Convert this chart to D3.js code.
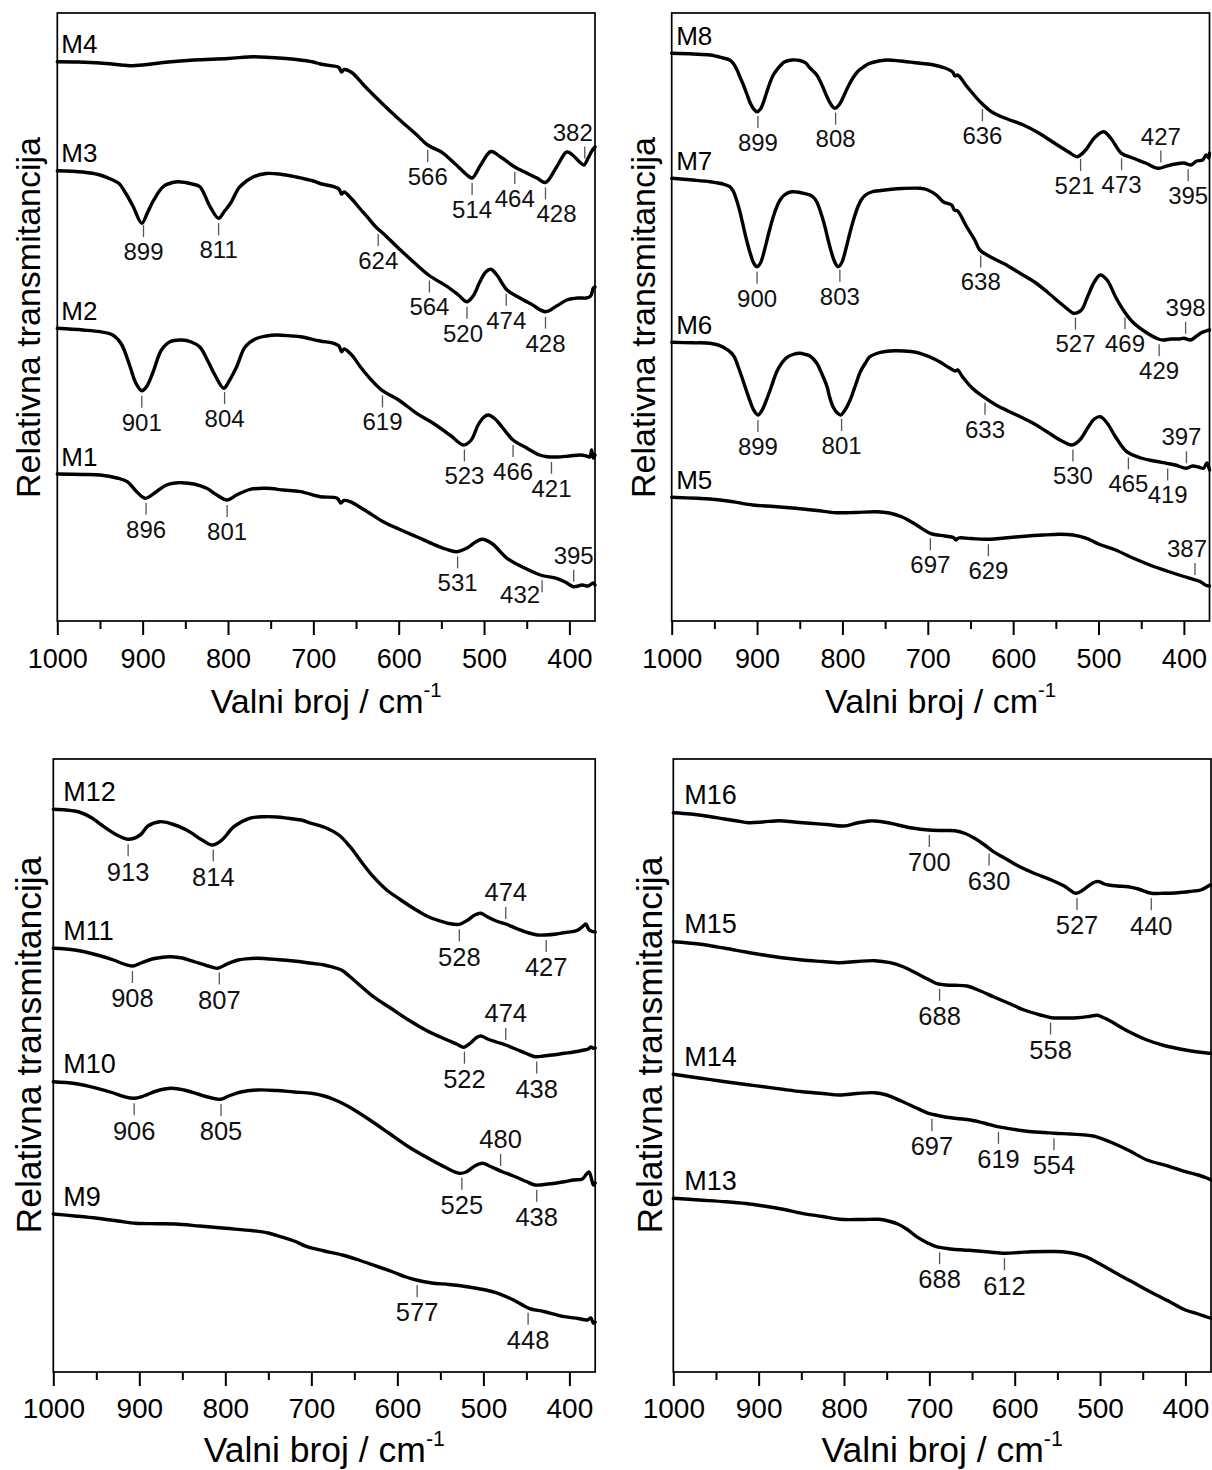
<!DOCTYPE html>
<html><head><meta charset="utf-8">
<script src="https://cdn.jsdelivr.net/npm/d3@7"></script>
<style>body{margin:0;background:#fff}svg{display:block}</style>
</head><body>
<svg id="c" width="1212" height="1470"></svg>
<script>
// ---------------- DATA (wavenumber cm-1, relative transmittance a.u.) ----------------
const wnDomain = [1000, 370];
const majorTicks = [1000, 900, 800, 700, 600, 500, 400];
const minorTicks = [950, 850, 750, 650, 550, 450];
const xTitle = "Valni broj / cm";
const xTitleSup = "-1";
const yTitle = "Relativna transmitancija";

const M4 = [[1000,559.3],[975,559],[950,558],[925,556],[915,555.3],[900,556],[870,559],[840,561],[800,562.5],[770,564.3],[750,563.5],[720,561.5],[700,559],[692,557],[672,554.3],[670,553.5],[667,549],[664,551.5],[655,548.5],[640,535],[620,518],[600,502],[580,487],[566,476],[550,469],[543,464.3],[530,454],[520,446],[514,443],[504,456],[492,469.5],[481,464.3],[464,454],[450,448],[438,443],[428,438.5],[415,454],[403,469],[395,465],[388,459],[383,456],[378,463],[373,471],[370,474]];
const M3 = [[1000,450.3],[970,449],[950,446],[935,441],[928,437.7],[920,428],[911,414.3],[901,397.7],[894,409],[887,421],[876,434.3],[865,438.5],[858,439.3],[850,438.5],[842,437],[833,434.3],[821,414.3],[811,402.7],[804,410],[797,417.7],[786,434.3],[770,444.3],[755,447.5],[740,447],[720,444],[700,440],[690,437],[676,434.3],[670,432],[667,427],[664,429],[655,422],[645,412],[637,404.3],[627,394.3],[615,385],[598,371],[580,357],[565,346],[550,338],[543,334.3],[530,326],[520,319.3],[512,326],[505,339],[498,349],[492,351.7],[485,346],[473,331],[460,324],[445,317],[428,309.3],[415,315],[403,321],[390,323],[380,323],[375,325],[372,333],[370,334]];
const M2 = [[1000,292.7],[970,291],[950,289.3],[935,286],[925,277],[915,255],[908,238],[901,230.3],[895,235],[888,248.5],[878,271],[868,279.3],[854,281],[843,279],[833,274],[823,259],[815,245.5],[805,232.7],[798,241],[790,254],[780,274],[768,282],[755,285],[743,286],[725,285],[715,284.3],[692,280],[676,277.7],[670,275],[667,269.3],[664,272],[655,266],[645,254.3],[632,241],[620,231],[600,221],[579,207.7],[560,198],[540,186],[524,176],[515,181],[507,196],[500,204],[495,206],[487,202],[478,193],[466,181],[450,173],[435,166],[426,164.3],[415,164],[400,165],[387,166],[380,165],[376,164],[374,171],[372,163],[370,166]];
const M1 = [[1000,147],[970,146.5],[950,146],[930,143],[918,139.3],[907,129.3],[897,122.7],[884,129.3],[872,136],[862,138],[854,138.3],[840,137],[825,132.7],[813,126],[801,121],[790,126],[774,131.7],[755,132.7],[735,131],[715,129.3],[692,124.3],[672,122.7],[668,118],[664,120.5],[657,119.3],[640,111],[618,99.3],[600,92],[579,84.3],[560,77],[545,72],[532,69.3],[520,73],[510,79],[502,81.7],[490,77],[473,62.7],[455,54],[434,46],[415,42.7],[405,39],[395,34.3],[385,36],[378,35],[372,38],[370,36]];

const M8 = [[1000,567.7],[975,567],[955,566],[940,563],[932,561],[928,557.7],[924,552],[920,544],[916,536],[912,527],[908,518],[904,512],[900,509.3],[896,512],[892,520],[889,528],[885,538],[881,546],[877,551],[872,556],[868,559],[859,561],[850,560.5],[843,558],[838,553],[830,546],[824,536],[818,524],[813,516],[809,512.7],[804,516],[799,524],[793,535],[787,544],[782,549.5],[777,553],[771,556.5],[765,558.5],[748,561],[732,560],[709,557.7],[693,556],[680,553],[671,549],[668,545],[665,546],[654,534.3],[637,517.7],[625,509],[610,503],[588,496],[570,488],[550,477],[535,469],[525,464.3],[515,471],[505,483],[494,489.3],[485,482],[473,467.7],[460,463],[445,458],[430,452.7],[420,455],[410,457],[400,458],[392,456],[385,460],[378,461],[374,466],[371,463],[370,468]];
const M7 = [[1000,442.7],[975,441],[955,439.3],[940,437],[932,434.3],[928,430],[924,421],[920,409],[916,394.3],[912,380],[908,367.7],[904,358],[900,354.3],[896,358],[891,372],[886,389],[881,404.3],[877,414],[873,421],[868,426],[861,429],[854,429],[847,428],[840,426.5],[835,424.5],[830,419],[826,410],[821,396],[817,382],[813,369],[809,359],[805,354.3],[801,358],[796,372],[791,389],[786,404],[782,414],[778,421],[773,426],[766,429],[755,430.5],[745,431.5],[730,432.5],[709,432.7],[700,431],[690,426],[682,419.3],[672,416],[669,411],[665,410],[655,395],[645,381],[639,371],[627,364.3],[610,357],[592,347.7],[575,339],[560,329],[545,318],[535,311],[529,307.7],[520,311],[513,324],[505,339],[498,346],[490,341],[480,324],[471,311],[460,299],[445,289],[430,282],[424,281],[415,282],[405,282],[400,282.7],[392,281],[385,285],[380,288],[374,290],[370,291]];
const M6 = [[1000,278.7],[975,278.2],[955,277.7],[940,274],[928,266],[922,254],[916,239.3],[912,229],[908,219.3],[904,211],[899,206],[894,211],[889,221],[883,235],[877,249.3],[871,258],[865,263.7],[858,266.5],[850,267.7],[843,266.5],[838,265],[830,257.7],[824,247],[818,234.3],[815,224],[811,214.3],[806,208],[802,206],[797,211],[791,221],[785,235],[779,249.3],[773,258],[768,264.3],[760,267.5],[750,269.5],[738,270.3],[720,269.5],[709,267.7],[690,261],[674,252.7],[668,250],[665,251],[660,245],[648,233],[635,224.3],[620,216],[596,206],[575,197],[560,189],[545,181],[531,176],[522,181],[512,194],[505,202],[498,204.3],[490,198],[480,184],[467,169.3],[450,163],[435,160],[420,157.7],[410,156],[397,152.7],[390,155],[383,154],[377,152.7],[373,158],[370,151]];
const M5 = [[1000,123.7],[970,122.7],[955,122],[930,119.5],[905,116],[880,114.5],[855,112.7],[830,110.5],[807,108.3],[785,108.5],[760,109.3],[745,108],[730,104],[715,97],[697,87.7],[680,85],[670,83.5],[667,81],[664,83],[650,82.5],[627,81.7],[610,83],[590,84.5],[565,86],[545,86.7],[530,86],[514,82.7],[500,77],[480,71],[459,62.7],[440,56],[420,50],[400,44.5],[389,41.7],[380,39],[375,36],[370,35]];

const M12 = [[1000,562.7],[985,562],[970,560],[955,554],[944,547],[926,537],[913,532.7],[899,537],[890,546],[876,550.3],[862,548],[845,542],[827,532],[815,527],[804,532],[790,545.3],[772,553.7],[754,555.3],[740,555],[727,553.7],[712,552],[700,548.7],[682,543.7],[668,537],[655,525.3],[640,508],[628,495.3],[612,481.7],[596,472],[580,463],[564,455.3],[550,451],[541,448.7],[528,447.7],[518,452],[510,457],[503,458.7],[495,455],[485,451],[474,448],[460,443],[447,439],[437,437],[428,437],[415,438],[405,439.5],[397,440.3],[390,442],[384,446],[381,448],[377,442],[372,440.3],[370,440]];
const M11 = [[1000,423.7],[975,422],[949,417],[930,412],[918,408],[908,406],[898,409],[885,413],[870,415],[863,415.3],[850,414],[835,410],[820,406],[809,403.7],[798,408],[785,412],[770,413.5],[763,413.7],[740,412.5],[720,411],[700,408.7],[685,407],[677,405.3],[665,402],[655,395.3],[640,384],[628,375.3],[608,364],[587,352],[565,341],[542,332],[530,327.5],[523,324.7],[515,329],[508,334.5],[503,336],[495,333],[485,330],[474,327],[460,322],[450,318.5],[440,315.3],[430,316],[420,317],[406,318.7],[395,320],[383,322],[378,323],[375,325],[372,323.7],[370,324]];
const M10 = [[1000,290.3],[975,288.5],[949,283.7],[930,279],[918,275.5],[906,273.7],[895,276],[880,281],[863,283.7],[848,282],[832,278],[818,274.5],[806,272.7],[796,276],[782,280],[763,282],[740,281.5],[720,280],[700,278.7],[685,276],[675,273],[664,268.7],[650,262],[632,252],[610,239],[587,225.3],[564,213.7],[545,205],[528,198.7],[520,200],[510,206],[501,208.7],[493,206],[478,200.3],[465,196],[450,190.5],[440,187],[425,188],[406,190.3],[395,192],[385,193],[380,198],[377,200],[374,192],[372,187],[370,189]];
const M9 = [[1000,158],[975,156],[949,153.7],[925,151],[904,148.7],[880,148.3],[858,148],[830,146],[800,143.7],[768,141.3],[750,139],[736,135.3],[720,131],[705,125.3],[685,121],[664,117],[645,112],[628,107],[605,100],[590,95],[578,92],[560,89],[540,87.5],[519,85.3],[500,82.5],[483,78.7],[465,72],[447,63.7],[430,60.5],[406,55.3],[390,53.5],[379,52],[375,54],[372,48.7],[370,50]];

const M16 = [[1000,559.3],[980,558],[962,556],[940,553],[925,551],[912,549.3],[895,550],[876,551.3],[858,550],[840,548.7],[820,547.5],[800,546],[785,549],[770,551],[764,551],[750,549.5],[737,547],[720,544],[701,542],[685,541.5],[670,541.3],[658,538.5],[647,533.7],[636,527.5],[625,520.3],[612,514],[598,507],[578,499],[557,492],[542,486],[528,478.7],[520,482],[512,487],[506,490],[501,490.3],[495,488],[490,487],[480,486],[467,485.3],[455,483],[440,478.7],[425,478.8],[409,479.3],[395,480.5],[382,482],[375,485],[371,487],[370,487]];
const M15 = [[1000,430.3],[970,428],[939,423.7],[915,420],[894,417],[870,414],[849,412],[825,410.5],[805,409.3],[785,410.5],[764,411.3],[746,409.3],[730,405],[715,398.7],[702,393],[692,388.7],[680,387],[670,386.7],[656,386],[640,381],[625,375.3],[605,368],[589,362],[570,357],[557,354.3],[540,354],[526,354.3],[513,355.5],[503,356.7],[495,354],[488,351],[470,342],[445,332],[425,326.5],[400,322],[385,320],[375,319],[370,318.7]];
const M14 = [[1000,297.7],[970,294],[939,290.3],[915,287.5],[894,285.3],[870,282.5],[849,280.3],[825,278.5],[805,277],[785,278.5],[764,279.3],[750,277],[733,271],[715,264],[701,258.7],[690,256.5],[683,255.3],[668,253.5],[652,252],[636,249],[620,245.3],[600,242.5],[580,240.3],[565,239.5],[553,238.7],[535,238],[517,237],[508,236],[499,233.7],[485,229],[465,221],[445,212],[420,206],[400,200.3],[385,197],[375,194],[370,192]];
const M13 = [[1000,173.7],[970,172],[939,170.3],[915,168.5],[894,166],[870,162.5],[849,158.7],[825,155.5],[805,152.7],[780,152.5],[760,152.7],[748,151],[737,148],[725,142],[715,135.3],[702,129],[692,125.3],[675,123],[660,122],[647,121.3],[630,120],[612,118.7],[595,119.5],[580,120.3],[560,120.5],[544,120.3],[530,118.5],[517,115.3],[500,108],[481,98.7],[463,90.5],[445,82],[420,71],[400,62],[385,58],[375,55],[370,53.7]];

const spectra = {M1,M2,M3,M4,M5,M6,M7,M8,M9,M10,M11,M12,M13,M14,M15,M16};
const panelSeries = {TL:["M4","M3","M2","M1"], TR:["M8","M7","M6","M5"], BL:["M12","M11","M10","M9"], BR:["M16","M15","M14","M13"]};

// peak labels: [spectrum, wavenumber, side]
const peakTable = [
 ["M4",566,"b"],["M4",514,"b"],["M4",464,"b"],["M4",428,"b"],["M4",382,"a"],
 ["M3",899,"b"],["M3",811,"b"],["M3",624,"b"],["M3",564,"b"],["M3",520,"b"],["M3",474,"b"],["M3",428,"b"],
 ["M2",901,"b"],["M2",804,"b"],["M2",619,"b"],["M2",523,"b"],["M2",466,"b"],["M2",421,"b"],
 ["M1",896,"b"],["M1",801,"b"],["M1",531,"b"],["M1",432,"b"],["M1",395,"a"],
 ["M8",899,"b"],["M8",808,"b"],["M8",636,"b"],["M8",521,"b"],["M8",473,"b"],["M8",395,"b"],["M8",427,"a"],
 ["M7",900,"b"],["M7",803,"b"],["M7",638,"b"],["M7",527,"b"],["M7",469,"b"],["M7",429,"b"],["M7",398,"a"],
 ["M6",899,"b"],["M6",801,"b"],["M6",633,"b"],["M6",530,"b"],["M6",465,"b"],["M6",419,"b"],["M6",397,"a"],
 ["M5",697,"b"],["M5",629,"b"],["M5",387,"a"],
 ["M12",913,"b"],["M12",814,"b"],["M12",528,"b"],["M12",427,"b"],["M12",474,"a"],
 ["M11",908,"b"],["M11",807,"b"],["M11",522,"b"],["M11",438,"b"],["M11",474,"a"],
 ["M10",906,"b"],["M10",805,"b"],["M10",525,"b"],["M10",438,"b"],["M10",480,"a"],
 ["M9",577,"b"],["M9",448,"b"],
 ["M16",700,"b"],["M16",630,"b"],["M16",527,"b"],["M16",440,"b"],
 ["M15",688,"b"],["M15",558,"b"],
 ["M14",697,"b"],["M14",619,"b"],["M14",554,"b"],
 ["M13",688,"b"],["M13",612,"b"]
];

// ---------------- LAYOUT ----------------
const FONT = "'Liberation Sans', Arial, Helvetica, sans-serif";
const layout = {
 TL:{x0:57.3,x1:595,y0:13,y1:621,vmax:608,fTick:27,fTitle:34,fName:26,fPeak:24,yTX:40,yTY:317.5,nameDx:4,tickBase:46.5,titleBase:91.5},
 TR:{x0:671.7,x1:1209.5,y0:13,y1:621,vmax:608,fTick:27,fTitle:34,fName:26,fPeak:24,yTX:655,yTY:317.5,nameDx:4.5,tickBase:46.5,titleBase:91.5},
 BL:{x0:53.3,x1:595.2,y0:759,y1:1372,vmax:613,fTick:28,fTitle:35.5,fName:27,fPeak:25.5,yTX:41,yTY:1045,nameDx:10,tickBase:45.5,titleBase:90},
 BR:{x0:673.3,x1:1211,y0:759,y1:1372,vmax:613,fTick:28,fTitle:35.5,fName:27,fPeak:25.5,yTX:662,yTY:1045,nameDx:11,tickBase:45.5,titleBase:90}
};
const labelShift = {"M4-428":[11,0],"M4-382":[-12,0],"M1-432":[-22,-12],"M8-521":[-6,0],"M6-397":[-5,0],"M5-387":[-8,0],"M3-520":[-4,0]};

function valueAt(data, wn){
  for(let i=0;i<data.length-1;i++){
    const a=data[i], b=data[i+1];
    if(wn<=a[0] && wn>=b[0]){ const t=(a[0]-wn)/(a[0]-b[0]); return a[1]+t*(b[1]-a[1]); }
  }
  return data[data.length-1][1];
}

const svg = d3.select("#c");
svg.append("rect").attr("width",1212).attr("height",1470).attr("fill","#fff");

Object.keys(layout).forEach(k=>{
  const L = layout[k];
  const x = d3.scaleLinear().domain(wnDomain).range([L.x0, L.x1]);
  const y = d3.scaleLinear().domain([0, L.vmax]).range([L.y1, L.y0]);
  const g = svg.append("g");

  const axMajor = d3.axisBottom(x).tickValues(majorTicks).tickFormat(d3.format("d"))
      .tickSize(14).tickSizeOuter(0).tickPadding(L.tickBase - 14 - 0.71*L.fTick);
  const ga = g.append("g").attr("transform",`translate(0,${L.y1})`).call(axMajor);
  ga.select(".domain").remove();
  ga.selectAll(".tick line").attr("stroke","#000").attr("stroke-width",2);
  ga.selectAll(".tick text").attr("font-size",L.fTick).attr("font-family",FONT).attr("fill","#000");
  const axMinor = d3.axisBottom(x).tickValues(minorTicks).tickFormat("").tickSize(8).tickSizeOuter(0);
  const gm = g.append("g").attr("transform",`translate(0,${L.y1})`).call(axMinor);
  gm.select(".domain").remove();
  gm.selectAll(".tick line").attr("stroke","#000").attr("stroke-width",2);

  g.append("rect").attr("x",L.x0).attr("y",L.y0).attr("width",L.x1-L.x0).attr("height",L.y1-L.y0)
   .attr("fill","none").attr("stroke","#000").attr("stroke-width",1.7);

  const xt = g.append("text").attr("x",(L.x0+L.x1)/2).attr("y",L.y1+L.titleBase)
   .attr("text-anchor","middle").attr("font-family",FONT).attr("font-size",L.fTitle).attr("fill","#000");
  xt.append("tspan").text(xTitle);
  xt.append("tspan").attr("font-size",L.fTitle*0.6).attr("dy",-L.fTitle*0.45).text(xTitleSup);
  g.append("text").attr("transform",`translate(${L.yTX},${L.yTY}) rotate(-90)`)
   .attr("text-anchor","middle").attr("font-family",FONT).attr("font-size",L.fTitle).attr("fill","#000").text(yTitle);

  const line = d3.line().x(d=>x(d[0])).y(d=>y(d[1])).curve(d3.curveCatmullRom.alpha(0.5));

  panelSeries[k].forEach(name=>{
    const data = spectra[name];
    g.append("path").datum(data).attr("d",line).attr("fill","none").attr("stroke","#000")
     .attr("stroke-width",3.4).attr("stroke-linejoin","round").attr("stroke-linecap","round");
    g.append("text").attr("x",L.x0+L.nameDx).attr("y",y(data[0][1])-8.5)
     .attr("font-family",FONT).attr("font-size",L.fName).attr("fill","#000").text(name);

    peakTable.filter(p=>p[0]===name).forEach(p=>{
      const wn=p[1], side=p[2];
      const px = x(wn), cy = y(valueAt(data, wn));
      const sh = labelShift[name+"-"+wn] || [0,0];
      let t0,t1,tb;
      if(side==="b"){ t0=cy+5; t1=cy+17; tb=t1+0.95*L.fPeak; }
      else { t1=cy-5; t0=cy-17; tb=t0-6; }
      g.append("line").attr("x1",px).attr("x2",px).attr("y1",t0).attr("y2",t1)
       .attr("stroke","#555").attr("stroke-width",1.3);
      g.append("text").attr("x",px+sh[0]).attr("y",tb+sh[1]).attr("text-anchor","middle")
       .attr("font-family",FONT).attr("font-size",L.fPeak).attr("fill","#111").text(wn);
    });
  });
});
</script>
</body></html>
